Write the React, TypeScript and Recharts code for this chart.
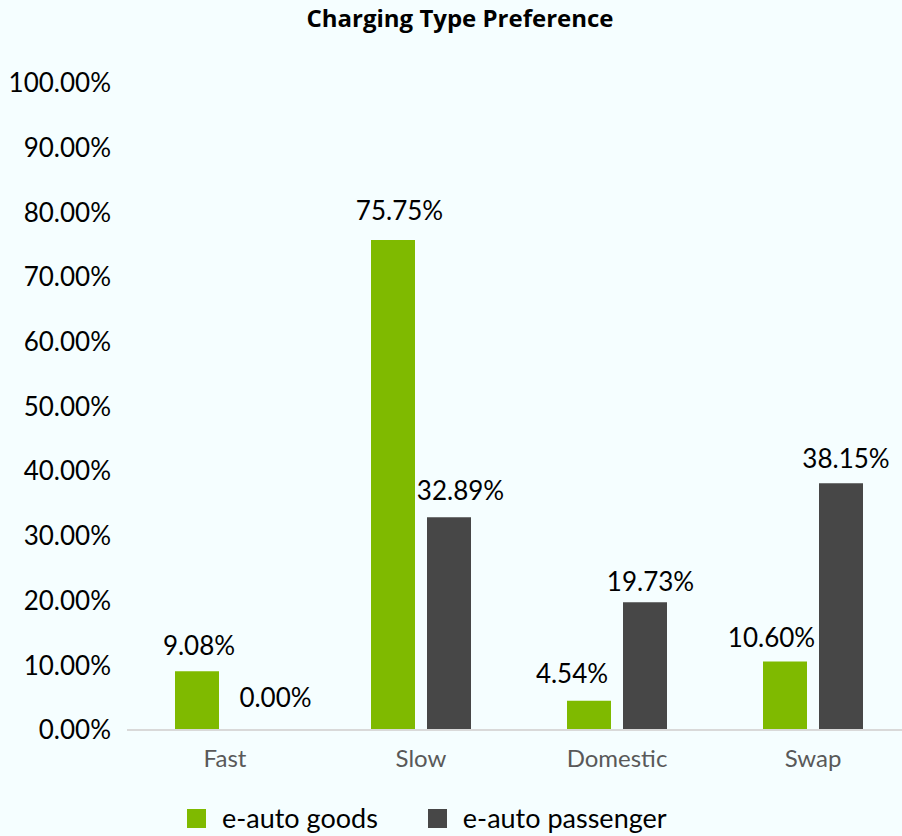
import { BarChart, Bar, XAxis, YAxis } from 'recharts';

const categories = ['Fast', 'Slow', 'Domestic', 'Swap'];
const goodsShare = [9.08, 75.75, 4.54, 10.6];
const passengerShare = [0.0, 32.89, 19.73, 38.15];
const yTicks = [0, 10, 20, 30, 40, 50, 60, 70, 80, 90, 100];

// per-label nudges [dx, gap above bar] so neighbouring labels don't collide
const goodsLabelShift = [
  [2, 16],
  [6.5, 20],
  [-17, 18],
  [-13.5, 14],
];
const passengerLabelShift = [
  [22.5, 23],
  [11.5, 17],
  [5.5, 11],
  [5, 15],
];

const GREEN = '#7fba00';
const DARK = '#474747';
const BG = '#f5feff';
const FONT = 'Lato, "Open Sans", sans-serif';

const data = categories.map((name, i) => ({
  name,
  goods: goodsShare[i],
  passenger: passengerShare[i],
}));

const pct = (v: number) => `${Number(v).toFixed(2)}%`;

const legendItems = [
  { label: 'e-auto goods', color: GREEN },
  { label: 'e-auto passenger', color: DARK },
];

const makeLabel = (shifts: number[][]) => (props: any) => {
  const { x, y, width, value, index } = props;
  if (value == null) return null;
  const [dx, gap] = shifts[index] ?? [0, 17];
  return (
    <text
      key={`lbl-${index}`}
      x={Number(x) + Number(width) / 2 + dx}
      y={Number(y) - gap}
      textAnchor="middle"
      fill="#000"
      fontSize={26}
    >
      {pct(value)}
    </text>
  );
};

export default function App() {
  return (
    <div
      style={{
        position: 'absolute',
        left: 0,
        top: 0,
        width: 902,
        height: 836,
        overflow: 'hidden',
        background: BG,
        fontFamily: FONT,
      }}
    >
      <div
        style={{
          position: 'absolute',
          top: 1,
          left: 0,
          width: 920,
          textAlign: 'center',
          fontFamily: '"Open Sans", sans-serif',
          fontWeight: 700,
          fontSize: 24,
          lineHeight: '34px',
          color: '#000',
        }}
      >
        Charging Type Preference
      </div>

      <BarChart
        width={911}
        height={790}
        data={data}
        margin={{ top: 83, right: 0, bottom: 0, left: 0 }}
        barSize={44}
        barGap={12}
        style={{ fontFamily: FONT }}
      >
        <XAxis
          dataKey="name"
          height={60}
          tickLine={false}
          tickSize={0}
          tickMargin={20}
          axisLine={{ stroke: '#d9d9d9', strokeWidth: 2 }}
          tick={{ fill: '#595959', fontSize: 24 }}
        />
        <YAxis
          width={127}
          domain={[0, 100]}
          ticks={yTicks}
          axisLine={false}
          tickLine={false}
          tickSize={0}
          tickMargin={16}
          tickFormatter={pct}
          tick={{ fill: '#000', fontSize: 26 }}
        />
        <Bar
          dataKey="goods"
          fill={GREEN}
          isAnimationActive={false}
          label={makeLabel(goodsLabelShift)}
        />
        <Bar
          dataKey="passenger"
          fill={DARK}
          minPointSize={0.01}
          isAnimationActive={false}
          label={makeLabel(passengerLabelShift)}
        />
      </BarChart>

      <div
        style={{
          position: 'absolute',
          top: 802,
          left: 187,
          display: 'flex',
          alignItems: 'center',
          fontSize: 27,
          lineHeight: '32px',
          color: '#000',
        }}
      >
        {legendItems.map((item, i) => (
          <div key={item.label} style={{ display: 'flex', alignItems: 'center', marginLeft: i === 0 ? 0 : 50 }}>
            <span style={{ width: 19, height: 19, background: item.color, marginRight: 16, display: 'inline-block' }} />
            <span>{item.label}</span>
          </div>
        ))}
      </div>
    </div>
  );
}
